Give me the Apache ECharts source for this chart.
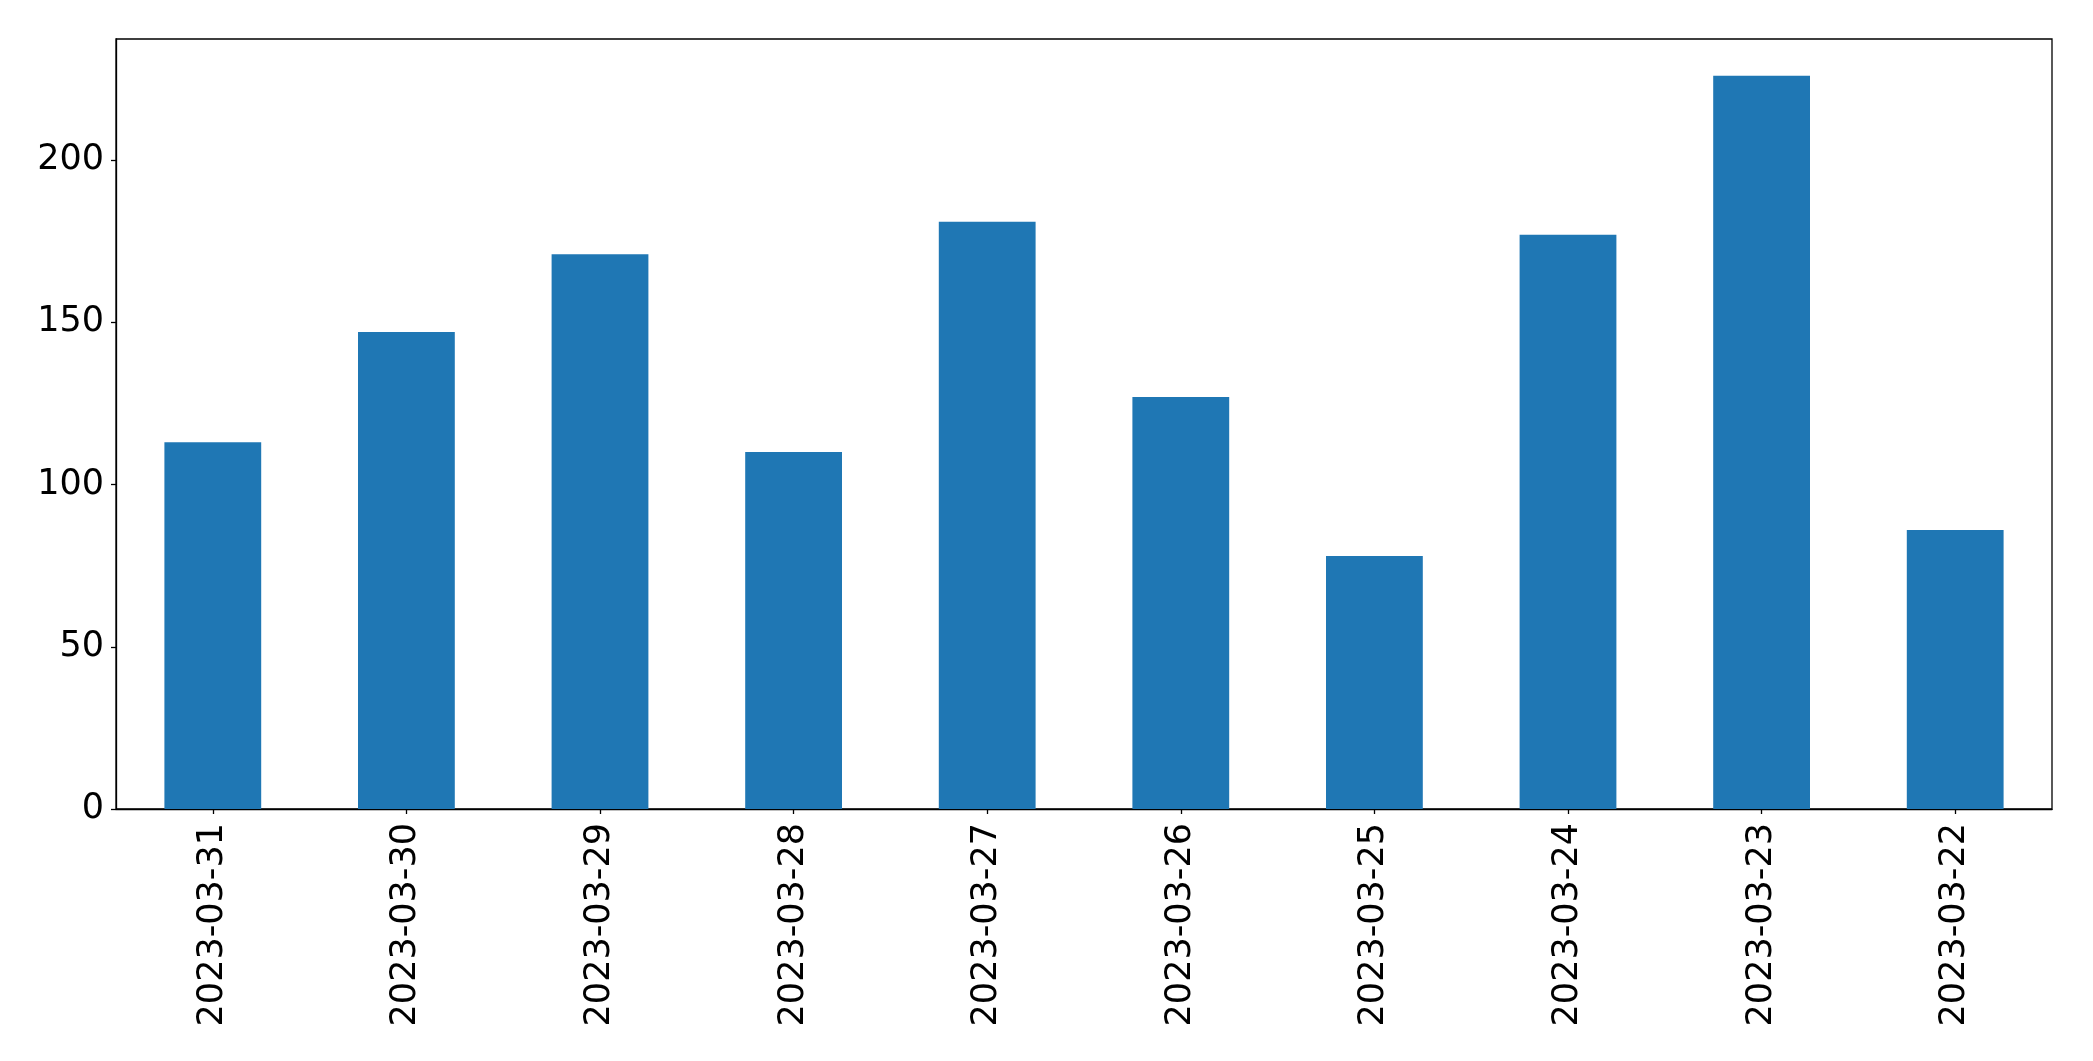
<!DOCTYPE html>
<html>
<head>
<meta charset="utf-8">
<script src="https://cdn.jsdelivr.net/npm/echarts@6/dist/echarts.min.js"></script>
<style>
html,body{margin:0;padding:0;background:#fff;}
#chart{width:2093px;height:1061px;}
</style>
</head>
<body>
<div id="chart"></div>
<script>
const categories = ['2023-03-31','2023-03-30','2023-03-29','2023-03-28','2023-03-27','2023-03-26','2023-03-25','2023-03-24','2023-03-23','2023-03-22'];
const values = [113, 147, 171, 110, 181, 127, 78, 177, 226, 86];
const yTicks = [0, 50, 100, 150, 200];

const chart = echarts.init(document.getElementById('chart'), null, {renderer: 'canvas'});
const yMax = Math.max(...values) * 1.05;
chart.setOption({
  animation: false,
  backgroundColor: '#ffffff',
  grid: {
    left: 116, right: 41, top: 39, bottom: 252,
    show: true, borderColor: '#000000', borderWidth: 1.3, backgroundColor: 'transparent'
  },
  xAxis: {
    type: 'category',
    data: categories,
    axisLine: {show: true, lineStyle: {color: '#000000', width: 1.3}},
    axisTick: {show: true, alignWithLabel: true, length: 5, lineStyle: {color: '#000000', width: 1.3}},
    axisLabel: {
      rotate: 90, margin: 14, interval: 0,
      color: '#000000', fontSize: 35, fontFamily: 'DejaVu Sans'
    },
    splitLine: {show: false}
  },
  yAxis: {
    type: 'value',
    min: 0, max: yMax, interval: 50,
    axisLine: {show: true, lineStyle: {color: '#000000', width: 1.3}},
    axisTick: {show: true, length: 5, lineStyle: {color: '#000000', width: 1.3}},
    axisLabel: {
      margin: 12, color: '#000000', fontSize: 35, fontFamily: 'DejaVu Sans',
      showMaxLabel: false,
      formatter: function (v) { return yTicks.indexOf(v) >= 0 ? String(v) : ''; }
    },
    splitLine: {show: false}
  },
  series: [{
    type: 'bar',
    data: values,
    barWidth: '50%',
    itemStyle: {color: '#1f77b4'}
  }]
});
</script>
</body>
</html>
